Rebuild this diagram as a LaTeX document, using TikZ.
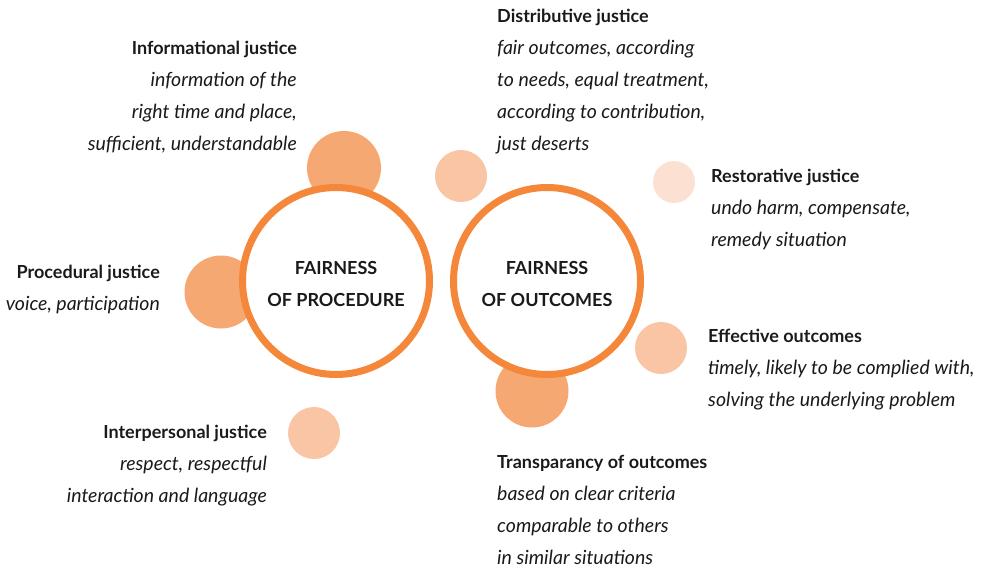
\documentclass[tikz,border=0pt]{standalone}
\usepackage{fontspec}
\setmainfont{Lato}
\definecolor{ringc}{HTML}{F5873B}
\definecolor{dotA}{HTML}{F6A872}
\definecolor{dotB}{HTML}{F9C5A5}
\definecolor{dotC}{HTML}{FCE1D3}
\definecolor{txt}{HTML}{1A1A1A}
\newcommand{\hd}[1]{{\fontsize{18}{32}\selectfont\bfseries #1}}
\newcommand{\ds}[1]{{\fontsize{19.5}{32}\selectfont\itshape #1}}
\begin{document}
\begin{tikzpicture}[x=1pt,y=-1pt,
  dot/.style={circle,inner sep=0pt,draw=none},
  ringnode/.style={circle,inner sep=0pt,minimum size=187pt,draw=ringc,line width=7pt,fill=white},
  lbl/.style={inner sep=0pt,text=txt,font=\fontsize{18}{32}\selectfont},
  lblL/.style={lbl,align=left,anchor=base west},
  lblR/.style={lbl,align=right,anchor=base east},
  ctr/.style={inner sep=0pt,text=txt,align=center,anchor=base,font=\fontsize{18}{31.5}\selectfont\bfseries}]
\useasboundingbox (0,0) rectangle (985,567);
% satellite dots
\node[dot,fill=dotA,minimum size=74pt] (dinfo) at (344,168) {};
\node[dot,fill=dotB,minimum size=52pt] (ddist) at (461,176) {};
\node[dot,fill=dotC,minimum size=42pt] (drest) at (674,182) {};
\node[dot,fill=dotA,minimum size=73pt] (dproc) at (221,292) {};
\node[dot,fill=dotB,minimum size=52pt] (deff) at (661,348) {};
\node[dot,fill=dotA,minimum size=73pt] (dtrans) at (532,391) {};
\node[dot,fill=dotB,minimum size=52pt] (dinter) at (314,433) {};
% main rings
\node[ringnode] (rproc) at (336,281) {};
\node[ringnode] (rout) at (547,281) {};
\node[ctr] (tproc) at (336,306) {FAIRNESS\\OF PROCEDURE};
\node[ctr] (tout) at (547,306) {FAIRNESS\\OF OUTCOMES};
% labels
\node[lblR] (linfo) at (297,150) {\hd{Informational justice}\\\ds{information of the}\\\ds{right time and place,}\\\ds{sufficient, understandable}};
\node[lblL] (ldist) at (497,150) {\hd{Distributive justice}\\\ds{fair outcomes, according}\\\ds{to needs, equal treatment,}\\\ds{according to contribution,}\\\ds{just deserts}};
\node[lblL] (lrest) at (711,246) {\hd{Restorative justice}\\\ds{undo harm, compensate,}\\\ds{remedy situation}};
\node[lblR] (lproc) at (160,310) {\hd{Procedural justice}\\\ds{voice, participation}};
\node[lblL] (leff) at (708,406) {\hd{Effective outcomes}\\\ds{timely, likely to be complied with,}\\\ds{solving the underlying problem}};
\node[lblR] (linter) at (267,502) {\hd{Interpersonal justice}\\\ds{respect, respectful}\\\ds{interaction and language}};
\node[lblL] (ltrans) at (497,564) {\hd{Transparancy of outcomes}\\\ds{based on clear criteria}\\\ds{comparable to others}\\\ds{in similar situations}};
\end{tikzpicture}
\end{document}
